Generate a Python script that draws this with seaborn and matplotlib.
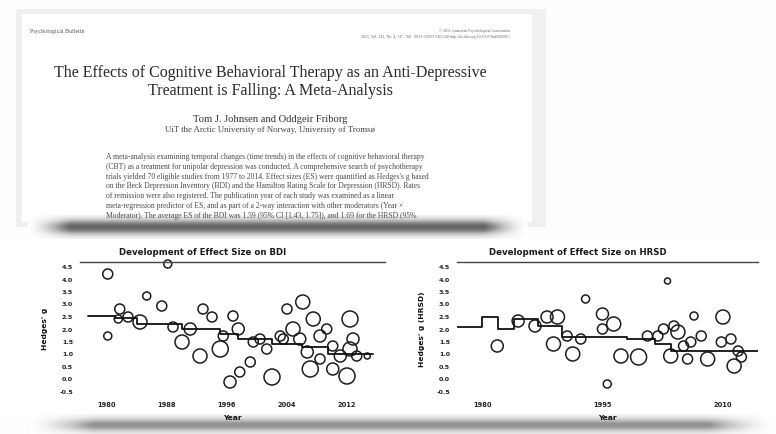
import numpy as np
import pandas as pd
import matplotlib
matplotlib.use("Agg")
import matplotlib.pyplot as plt
from matplotlib.patches import Rectangle
import seaborn as sns

# ── Data ──────────────────────────────────────────────────────────────────────
# BDI panel: publication year, Hedges' g, sample size (bubble size)
bdi_year = [1980.1, 1988.1, 1985.3, 1987.3, 1981.7, 1981.5, 1982.8, 1984.4, 1980.1, 1988.8,
            1991.1, 1990.0, 1992.8, 1994.0, 1992.4, 1995.1, 1996.8, 1997.5, 1995.5, 1999.5,
            2000.4, 1999.1, 1997.7, 1996.4, 2002.0, 2001.3, 2004.0, 2006.1, 2004.8, 2003.5,
            2005.7, 2007.5, 2008.4, 2006.7, 2007.1, 2009.3, 2010.1, 2012.4, 2012.8, 2012.4,
            2012.0, 2010.1, 2013.3, 2011.1, 2014.7, 2008.4, 2003.1]
bdi_g = [4.18, 4.58, 3.30, 2.90, 2.78, 2.38, 2.46, 2.26, 1.70, 2.06,
         1.98, 1.46, 2.78, 2.46, 0.90, 1.18, 2.50, 1.98, 1.70, 1.46,
         1.58, 0.66, 0.26, -0.14, 0.06, 1.18, 2.78, 3.06, 1.98, 1.58,
         1.58, 2.38, 1.70, 1.06, 0.38, 1.98, 1.30, 2.38, 1.58, 1.18,
         0.10, 0.38, 0.90, 0.90, 0.90, 0.78, 1.70]
bdi_n = [100, 64, 64, 100, 100, 64, 100, 196, 64, 100,
         144, 196, 100, 100, 196, 256, 100, 144, 100, 100,
         100, 100, 100, 144, 256, 100, 100, 196, 196, 100,
         144, 196, 144, 144, 256, 100, 100, 256, 144, 196,
         256, 144, 100, 144, 36, 100, 100]
bdi_trend_year = [1977.5, 1981.0, 1984.0, 1990.0, 1995.0, 1997.5, 2002.0, 2006.0, 2009.5, 2015.5]
bdi_trend_g = [2.50, 2.42, 2.18, 1.98, 1.78, 1.58, 1.38, 1.26, 1.00, 1.00]

# HRSD panel
hrsd_year = [2003.1, 1992.9, 1981.9, 1984.5, 1986.6, 1988.1, 1989.4, 1988.9, 1991.3, 1990.6,
             1992.3, 1995.0, 1996.4, 1995.0, 1995.6, 1997.3, 1999.5, 2001.9, 2002.6, 2003.5,
             2004.4, 2005.1, 2006.0, 2006.4, 2005.6, 2007.3, 2008.1, 2010.0, 2009.8, 2011.0,
             2011.4, 2011.9, 2012.3, 2000.6, 2003.9]
hrsd_g = [3.90, 3.18, 1.30, 2.30, 2.10, 2.46, 2.46, 1.38, 0.98, 1.70,
          1.58, 2.58, 2.18, 1.98, -0.22, 0.90, 0.86, 1.70, 1.98, 0.90,
          1.86, 1.30, 1.46, 2.50, 0.78, 1.70, 0.78, 2.46, 1.46, 1.58,
          0.50, 1.10, 0.86, 1.70, 2.10]
hrsd_n = [36, 64, 144, 144, 144, 144, 196, 196, 196, 100,
          100, 144, 196, 100, 64, 196, 256, 100, 100, 196,
          196, 100, 100, 64, 100, 100, 196, 196, 100, 100,
          196, 100, 100, 100, 100]
hrsd_trend_year = [1976.9, 1980.0, 1982.0, 1984.0, 1987.0, 1990.0, 1998.0, 2001.5, 2003.5, 2014.4]
hrsd_trend_g = [2.06, 2.46, 1.98, 2.38, 2.10, 1.66, 1.58, 1.38, 1.10, 1.10]

bdi_year_ticks = [1980, 1988, 1996, 2004, 2012]
hrsd_year_ticks = [1980, 1995, 2010]
g_ticks = [-0.5, 0.0, 0.5, 1.0, 1.5, 2.0, 2.5, 3.0, 3.5, 4.0, 4.5]

# Paper page text
header_left = "Psychological Bulletin"
header_right = ["© 2015 American Psychological Association",
                "2015, Vol. 141, No. 4, 747–768   0033-2909/15/$12.00 http://dx.doi.org/10.1037/bul0000015"]
title_lines = ["The Effects of Cognitive Behavioral Therapy as an Anti-Depressive",
               "Treatment is Falling: A Meta-Analysis"]
authors = "Tom J. Johnsen and Oddgeir Friborg"
affiliation = "UiT the Arctic University of Norway, University of Tromsø"
abstract_lines = [
    "A meta-analysis examining temporal changes (time trends) in the effects of cognitive behavioral therapy",
    "(CBT) as a treatment for unipolar depression was conducted. A comprehensive search of psychotherapy",
    "trials yielded 70 eligible studies from 1977 to 2014. Effect sizes (ES) were quantified as Hedges's g based",
    "on the Beck Depression Inventory (BDI) and the Hamilton Rating Scale for Depression (HRSD). Rates",
    "of remission were also registered. The publication year of each study was examined as a linear",
    "meta-regression predictor of ES, and as part of a 2-way interaction with other moderators (Year ×",
    "Moderator). The average ES of the BDI was 1.59 (95% CI [1.43, 1.75]), and 1.69 for the HRSD (95%",
]

W, H = 776, 435
sns.set_theme(style="white")
plt.rcParams["font.family"] = ["DejaVu Sans"]
SERIF = ["Liberation Serif", "DejaVu Serif"]


def band(ax, x0, x1, y0, y1, peak, width=0.55):
    # soft grey shadow strip under a page
    rows = np.exp(-((np.linspace(-1, 1, 30)) ** 2) / width)
    cols = np.clip(np.minimum(np.linspace(0, 1, 200) * 12, np.linspace(1, 0, 200) * 12), 0, 1)
    img = peak * rows[:, None] * cols[None, :]
    ax.imshow(img, cmap="Greys", vmin=0, vmax=1, extent=(x0, x1, y1, y0),
              aspect="auto", interpolation="bilinear", zorder=1)


fig = plt.figure(figsize=(W / 100, H / 100), dpi=100)
fig.patch.set_facecolor("#fdfdfd")

# ── Background: page + shadows, in pixel coordinates ─────────────────────────
bg = fig.add_axes([0, 0, 1, 1])
bg.add_patch(Rectangle((16, 10), 530, 218, facecolor="#f0f0f0", edgecolor="none", zorder=0))
bg.add_patch(Rectangle((22, 15), 510, 208, facecolor="white", edgecolor="none", zorder=0))
bg.add_patch(Rectangle((0, 236), W, 184, facecolor="white", edgecolor="none", zorder=0))
band(bg, 28, 527, 216, 240, 0.68)
band(bg, 30, 772, 415, 437, 0.52)

bg.text(30, 32, header_left, fontsize=4.2, family=SERIF, color="#555", va="center")
for i, line in enumerate(header_right):
    bg.text(510, 31 + i * 6, line, fontsize=2.9, family=SERIF, color="#666",
            ha="right", va="center")
for i, line in enumerate(title_lines):
    bg.text(270, 73 + i * 18, line, fontsize=11.5, family=SERIF, color="#2a2a2a",
            ha="center", va="center")
bg.text(270, 120, authors, fontsize=7.6, family=SERIF, color="#333", ha="center", va="center")
bg.text(270, 130, affiliation, fontsize=6.3, family=SERIF, color="#444", ha="center", va="center")
for i, line in enumerate(abstract_lines):
    bg.text(106, 157 + i * 9.8, line, fontsize=5.5, family=SERIF, color="#4a4a4a", va="center")

bg.set_xlim(0, W)
bg.set_ylim(H, 0)
bg.axis("off")


# ── Scatter panels ───────────────────────────────────────────────────────────
def panel(rect_px, years, g, n, trend_year, trend_g, xticks, px_per_year, tick0_px,
          title, ylabel):
    x0, x1, ytop, ybot = rect_px
    ax = fig.add_axes([x0 / W, 1 - ybot / H, (x1 - x0) / W, (ybot - ytop) / H])
    ax.set_facecolor("none")
    df = pd.DataFrame({"year": years, "g": g, "n": n})
    sns.scatterplot(data=df, x="year", y="g", size="n", sizes=(19, 133), size_norm=(36, 256),
                    facecolor="none", edgecolor="#1c1c1c", linewidth=1.1, legend=False,
                    clip_on=False, ax=ax)
    tr = pd.DataFrame({"year": trend_year, "g": trend_g})
    sns.lineplot(data=tr, x="year", y="g", estimator=None, drawstyle="steps-post",
                 color="#111111", linewidth=1.3, ax=ax)
    ax.set_xlim(xticks[0] + (x0 - tick0_px) / px_per_year,
                xticks[0] + (x1 - tick0_px) / px_per_year)
    ax.set_ylim(4.5 - (ybot - 267) / 25, 4.5 + (267 - ytop) / 25)
    ax.set_xticks(xticks)
    ax.set_xticklabels([str(t) for t in xticks], fontsize=4.8, fontweight="bold", color="#222")
    ax.set_yticks(g_ticks)
    ax.set_yticklabels([f"{t:.1f}" for t in g_ticks], fontsize=4.6, fontweight="bold", color="#222")
    ax.tick_params(length=0, pad=5)
    for side in ["left", "right", "bottom"]:
        ax.spines[side].set_visible(False)
    ax.spines["top"].set_color("#444")
    ax.spines["top"].set_linewidth(1.0)
    # title sits left of centre in the original
    ax.text(0.402, 1.0, title, transform=ax.transAxes, ha="center", va="bottom",
            fontsize=6.2, fontweight="bold", color="#1a1a1a")
    ax.title.set_visible(False)
    ax.set_xlabel("Year", fontsize=5.4, fontweight="bold", color="#111", labelpad=5)
    ax.set_ylabel(ylabel, fontsize=5.4, fontweight="bold", color="#111", labelpad=8)
    return ax


ax1 = panel((80, 385, 263, 395), bdi_year, bdi_g, bdi_n, bdi_trend_year, bdi_trend_g,
            bdi_year_ticks, 7.5, 107, "Development of Effect Size on BDI", "Hedges' g")
ax2 = panel((457, 758, 263, 395), hrsd_year, hrsd_g, hrsd_n, hrsd_trend_year, hrsd_trend_g,
            hrsd_year_ticks, 8.03, 482, "Development of Effect Size on HRSD", "Hedges' g (HRSD)")
# nudge the titles up a touch above the top line
for a in (ax1, ax2):
    a.texts[-1].set_position((0.402, 1.045))

fig.savefig("out.png", dpi=100, facecolor=fig.get_facecolor())
